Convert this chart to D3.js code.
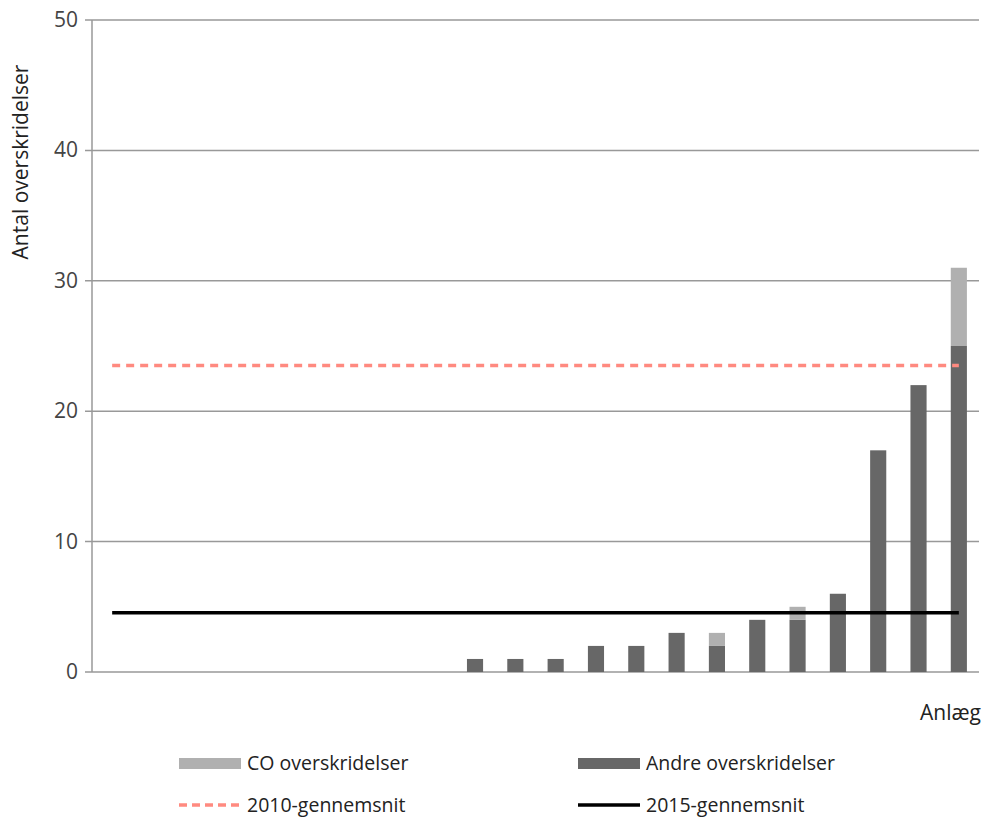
<!DOCTYPE html>
<html>
<head>
<meta charset="utf-8">
<script src="https://cdn.jsdelivr.net/npm/d3@7"></script>
<style>
  body { margin: 0; background: #fff; }
  svg text { font-family: "Open Sans", "Liberation Sans", sans-serif; fill: #222; }
</style>
</head>
<body>
<svg width="986" height="821"></svg>
<script>
// one entry per plant (anlæg), sorted by total
var anlaeg = d3.range(1, 23).map(function(i){ return 'A' + i; });
var co    = [0,0,0,0,0,0,0,0,0, 0,0,0,0,0,0,1,0,1,0,0,0,6];
var andre = [0,0,0,0,0,0,0,0,0, 1,1,1,2,2,3,2,4,4,6,17,22,25];
var avg2010 = 23.5;
var avg2015 = 4.55;
var yTicks = [0, 10, 20, 30, 40, 50];

function main() {
	var svg = d3.select('svg');
	var left = 92, right = 979, top = 20, bottom = 672;

	var x = d3.scaleBand().domain(anlaeg).range([left, right]).paddingInner(0.6).paddingOuter(0.3);
	var y = d3.scaleLinear().domain([0, 50]).range([bottom, top]);

	// gridlines
	svg.append('g').selectAll('line').data(yTicks).enter().append('line')
		.attr('x1', left - 7).attr('x2', right)
		.attr('y1', function(d){ return y(d); }).attr('y2', function(d){ return y(d); })
		.attr('stroke', '#999').attr('stroke-width', 1.5);

	// left axis line
	svg.append('line').attr('x1', left).attr('x2', left).attr('y1', top).attr('y2', bottom)
		.attr('stroke', '#999').attr('stroke-width', 1.5);

	svg.append('g').selectAll('text').data(yTicks).enter().append('text')
		.attr('x', left - 14).attr('y', function(d){ return y(d) + 7; })
		.attr('text-anchor', 'end').style('font-size', '21px').style('fill', '#444')
		.text(function(d){ return d; });

	// stacked bars
	var rows = anlaeg.map(function(a, i){ return {a: a, andre: andre[i], co: co[i]}; });
	var stack = d3.stack().keys(['andre', 'co'])(rows);
	var color = {andre: '#676767', co: '#b0b0b0'};
	stack.forEach(function(s){
		svg.append('g').selectAll('rect').data(s).enter().append('rect')
			.attr('x', function(d){ return x(d.data.a); })
			.attr('width', x.bandwidth())
			.attr('y', function(d){ return y(d[1]); })
			.attr('height', function(d){ return y(d[0]) - y(d[1]); })
			.attr('fill', color[s.key]);
	});

	// average lines, from first to last category centre
	var x0 = x(anlaeg[0]) + x.bandwidth() / 2, x1 = x(anlaeg[anlaeg.length - 1]) + x.bandwidth() / 2;
	svg.append('line').attr('x1', x0).attr('x2', x1).attr('y1', y(avg2010)).attr('y2', y(avg2010))
		.attr('stroke', '#ff8a80').attr('stroke-width', 3.5).attr('stroke-dasharray', '8,6').attr('stroke-linecap', 'butt');
	svg.append('line').attr('x1', x0).attr('x2', x1).attr('y1', y(avg2015)).attr('y2', y(avg2015))
		.attr('stroke', '#000').attr('stroke-width', 3.5);

	// axis titles
	svg.append('text').attr('transform', 'translate(28,162) rotate(-90)')
		.attr('text-anchor', 'middle').style('font-size', '21px').text('Antal overskridelser');
	svg.append('text').attr('x', 981).attr('y', 720).attr('text-anchor', 'end')
		.style('font-size', '21px').text('Anlæg');

	// legend
	var leg = [
		{label: 'CO overskridelser', type: 'rect', color: color.co, x: 179, y: 763},
		{label: 'Andre overskridelser', type: 'rect', color: color.andre, x: 578, y: 763},
		{label: '2010-gennemsnit', type: 'dash', color: '#ff8a80', x: 179, y: 805},
		{label: '2015-gennemsnit', type: 'line', color: '#000', x: 578, y: 805}
	];
	var lg = svg.append('g').selectAll('g').data(leg).enter().append('g')
		.attr('transform', function(d){ return 'translate(' + d.x + ',' + d.y + ')'; });
	lg.filter(function(d){ return d.type == 'rect'; }).append('rect')
		.attr('x', 0).attr('y', -5).attr('width', 62).attr('height', 11).attr('fill', function(d){ return d.color; });
	lg.filter(function(d){ return d.type != 'rect'; }).append('line')
		.attr('x1', 0).attr('x2', 62).attr('stroke', function(d){ return d.color; }).attr('stroke-width', 3.5)
		.attr('stroke-dasharray', function(d){ return d.type == 'dash' ? '8,5' : null; });
	lg.append('text').attr('x', 68).attr('y', 7).style('font-size', '19.5px')
		.text(function(d){ return d.label; });
}
main();
</script>
</body>
</html>
